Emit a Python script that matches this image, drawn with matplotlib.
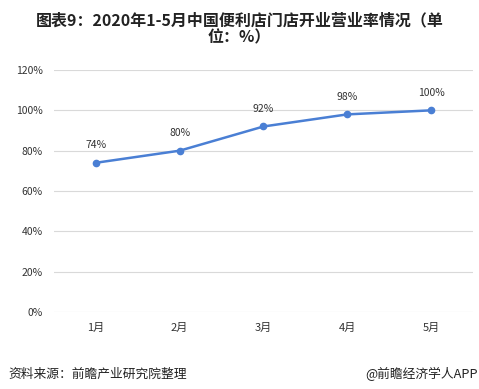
import matplotlib
matplotlib.use("Agg")
import matplotlib.pyplot as plt

plt.rcParams['font.family'] = ['Noto Sans CJK SC', 'DejaVu Sans']

# ----- Data -----
months = ["1月", "2月", "3月", "4月", "5月"]
rates = [74, 80, 92, 98, 100]
y_ticks = [0, 20, 40, 60, 80, 100, 120]

line_color = "#4a7fd4"
text_color = "#333333"

fig = plt.figure(figsize=(4.79, 3.89), dpi=100)
ax = fig.add_axes([0.1127, 0.198, 0.8748, 0.622])

x = list(range(len(months)))
ax.plot(x, rates, color=line_color, lw=1.8, marker="o", ms=4.5, zorder=3)

for xi, v in zip(x, rates):
    ax.annotate(f"{v}%", (xi, v), xytext=(0, 9), textcoords="offset points",
                ha="center", va="bottom", fontsize=7.5, color=text_color)

ax.set_xlim(-0.5, len(months) - 0.5)
ax.set_ylim(0, 120)
ax.set_yticks(y_ticks)
ax.set_yticklabels([f"{t}%" for t in y_ticks], fontsize=7.5, color=text_color)
ax.set_xticks(x)
ax.set_xticklabels(months, fontsize=8, color=text_color)
ax.tick_params(length=0)
ax.tick_params(axis="y", pad=8)
ax.tick_params(axis="x", pad=8)
ax.grid(axis="y", color="#d9d9d9", lw=0.8)
ax.set_axisbelow(True)
for s in ax.spines.values():
    s.set_visible(False)

fig.text(0.5, 0.948, "图表9：2020年1-5月中国便利店门店开业营业率情况（单",
         ha="center", va="center", fontsize=11.5, fontweight="bold", color="#222222")
fig.text(0.5, 0.905, "位：%）", ha="center", va="center", fontsize=11.5,
         fontweight="bold", color="#222222")

fig.text(0.017, 0.039, "资料来源：前瞻产业研究院整理", ha="left", va="center",
         fontsize=9.2, color="#222222")
fig.text(0.998, 0.039, "@前瞻经济学人APP", ha="right", va="center",
         fontsize=9.2, color="#222222")

fig.savefig("out.png", dpi=100)
